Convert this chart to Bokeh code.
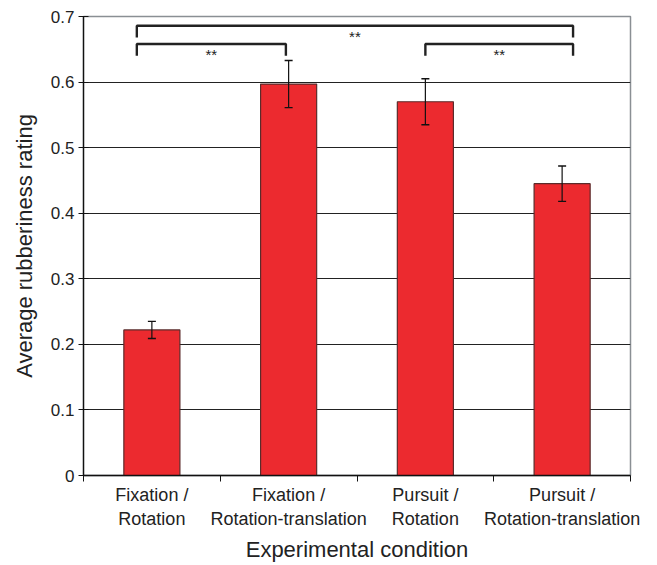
from bokeh.plotting import figure
from bokeh.models import FixedTicker, Range1d, ColumnDataSource, Whisker
from bokeh.embed import file_html
from bokeh.resources import INLINE
from bokeh.core.properties import value

# ---- data ----
conditions = ["Fixation /\nRotation", "Fixation /\nRotation-translation",
              "Pursuit /\nRotation", "Pursuit /\nRotation-translation"]
ratings = [0.222, 0.597, 0.570, 0.445]
errors = [0.013, 0.036, 0.035, 0.027]
y_ticks = [0, 0.1, 0.2, 0.3, 0.4, 0.5, 0.6, 0.7]
y_tick_labels = ["0", "0.1", "0.2", "0.3", "0.4", "0.5", "0.6", "0.7"]
# significance comparisons (category index pairs) and label
comp_from = [0, 0, 2]
comp_to = [3, 1, 3]
comp_level = [0.686, 0.658, 0.658]
comp_label = ["**", "**", "**"]

FONT = "Liberation Sans"
xs = [i + 0.5 for i in range(len(conditions))]

p = figure(frame_width=547, frame_height=459, output_backend="svg", toolbar_location=None,
           x_range=Range1d(0, 4), y_range=Range1d(0, 0.7),
           min_border_left=83, min_border_right=19, min_border_top=16, min_border_bottom=10)
p.background_fill_color = "white"
p.border_fill_color = "white"
p.outline_line_color = "#8a8f94"
p.outline_line_width = 1.5

# grid
p.xgrid.visible = False
p.ygrid.grid_line_color = "#222222"
p.ygrid.grid_line_width = 1.2
p.ygrid.ticker = FixedTicker(ticks=y_ticks[1:-1])

# bars
src = ColumnDataSource(dict(x=xs, top=ratings,
                            upper=[r + e for r, e in zip(ratings, errors)],
                            lower=[r - e for r, e in zip(ratings, errors)]))
p.vbar(x="x", top="top", width=0.41, bottom=0, source=src,
       fill_color="#ec2a2f", line_color="#5b2b2b", line_width=1.2)

w = Whisker(base="x", upper="upper", lower="lower", source=src,
            line_color="#111111", line_width=1.2, level="overlay")
for h in (w.upper_head, w.lower_head):
    h.size = 8
    h.line_color = "#111111"
    h.line_width = 1.4
p.add_layout(w)

# significance brackets
bx0 = [xs[a] - 0.11 if a == 0 else xs[a] for a in comp_from]
bx1 = [xs[b] + 0.08 if b == 3 else xs[b] - 0.02 for b in comp_to]
drop = 0.018
p.multi_line(xs=[[a, a, b, b] for a, b in zip(bx0, bx1)],
             ys=[[l - drop, l, l, l - drop] for l in comp_level],
             line_color="#222222", line_width=2.4)
p.text(x=[(a + b) / 2 for a, b in zip(bx0, bx1)], y=[l - 0.003 for l in comp_level],
       text=comp_label, text_align="center", text_baseline="top",
       text_font=value(FONT), text_font_size="15px", text_color="#222222")

# axes
p.yaxis.ticker = FixedTicker(ticks=y_ticks)
p.yaxis.major_label_overrides = {t: l for t, l in zip(y_ticks, y_tick_labels)}
p.yaxis.minor_tick_line_color = None
p.yaxis.major_tick_out = 5
p.yaxis.major_tick_in = 5
p.yaxis.axis_line_color = "#111111"
p.yaxis.major_tick_line_color = "#111111"
p.yaxis.axis_label = "Average rubberiness rating"

p.xaxis.ticker = FixedTicker(ticks=xs, minor_ticks=[0, 1, 2, 3, 4])
p.xaxis.major_label_overrides = {x: c for x, c in zip(xs, conditions)}
p.xaxis.major_tick_out = 0
p.xaxis.major_tick_in = 0
p.xaxis.minor_tick_out = 6
p.xaxis.minor_tick_in = 0
p.xaxis.minor_tick_line_color = "#111111"
p.xaxis.axis_line_color = "#111111"
p.xaxis.axis_label = "Experimental condition"

for ax in (p.xaxis[0], p.yaxis[0]):
    ax.axis_line_width = 1.3
    ax.major_label_text_font = FONT
    ax.major_label_text_color = "#222222"
    ax.axis_label_text_font = FONT
    ax.axis_label_text_font_size = "22px"
    ax.axis_label_text_font_style = "normal"
    ax.axis_label_text_color = "#222222"
p.xaxis.major_label_text_font_size = "18px"
p.yaxis.major_label_text_font_size = "17px"
p.xaxis.major_label_standoff = 3
p.xaxis.axis_label_standoff = 5
p.yaxis.major_label_standoff = 4
p.yaxis.axis_label_standoff = 11

open("out.html", "w").write(file_html(p, INLINE))
